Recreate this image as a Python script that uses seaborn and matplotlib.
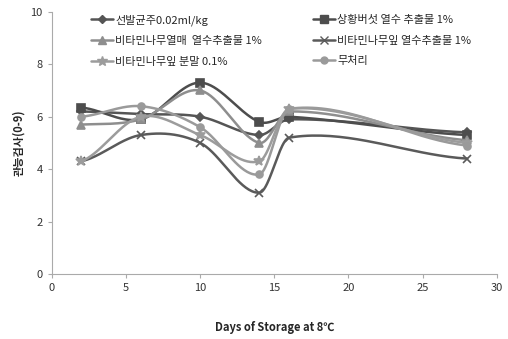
"""
관능검사 점수 변화 (8℃ 저장) - 처리구별 smoothed line
"""

import numpy as np
import pandas as pd
import matplotlib
matplotlib.use('Agg')
import matplotlib.pyplot as plt
import seaborn as sns

# 데이터
days = [2, 6, 10, 14, 16, 28]
series_names = ['선발균주0.02ml/kg', '상황버섯 열수 추출물 1%', '비타민나무열매  열수추출물 1%',
                '비타민나무잎 열수추출물 1%', '비타민나무잎 분말 0.1%', '무처리']
strain = [6.2, 6.1, 6.0, 5.3, 5.9, 5.4]
mushroom = [6.35, 5.9, 7.3, 5.8, 6.0, 5.3]
berry = [5.7, 5.9, 7.0, 5.0, 6.2, 5.1]
leaf_extract = [4.3, 5.3, 5.0, 3.1, 5.2, 4.4]
leaf_powder = [4.3, 6.0, 5.3, 4.3, 6.3, 5.0]
control = [6.0, 6.4, 5.6, 3.8, 6.3, 4.9]
values = [strain, mushroom, berry, leaf_extract, leaf_powder, control]

x_ticks = [0, 5, 10, 15, 20, 25, 30]
y_ticks = [0, 2, 4, 6, 8, 10]

sns.set_style('white')
plt.rcParams['font.family'] = ['Noto Sans CJK KR', 'DejaVu Sans']
plt.rcParams['axes.unicode_minus'] = False

colors = ['#555555', '#4d4d4d', '#8e8e8e', '#5a5a5a', '#9c9c9c', '#9a9a9a']
markers = ['D', 's', '^', 'x', '*', 'o']
msizes = [4, 6, 6, 6, 7, 5]


def smooth(xs, ys, n=40):
    """부드러운 선 (x 기준 cubic Hermite, 과도한 꺾임 방지)"""
    xs = np.asarray(xs, float)
    ys = np.asarray(ys, float)
    k = len(xs)
    slopes = np.zeros(k)
    for i in range(k):
        a = max(i - 1, 0)
        b = min(i + 1, k - 1)
        slopes[i] = (ys[b] - ys[a]) / (xs[b] - xs[a])
    slopes[0] = 0.5 * slopes[0]
    slopes[-1] = 0.5 * slopes[-1]
    out_x, out_y = [], []
    t = np.linspace(0, 1, n)
    for i in range(k - 1):
        h = xs[i + 1] - xs[i]
        h00 = 2 * t**3 - 3 * t**2 + 1
        h10 = t**3 - 2 * t**2 + t
        h01 = -2 * t**3 + 3 * t**2
        h11 = t**3 - t**2
        yy = h00 * ys[i] + h10 * h * slopes[i] + h01 * ys[i + 1] + h11 * h * slopes[i + 1]
        xx = xs[i] + t * h
        s = 0 if i == 0 else 1
        out_x.extend(xx[s:])
        out_y.extend(yy[s:])
    return np.array(out_x), np.array(out_y)


fig, ax = plt.subplots(figsize=(5.08, 3.39), dpi=100)
fig.subplots_adjust(left=0.102, right=0.978, bottom=0.192, top=0.965)

handles = []
for name, ys, c, m, ms in zip(series_names, values, colors, markers, msizes):
    cx, cy = smooth(days, ys)
    df_c = pd.DataFrame({'x': cx, 'y': cy})
    sns.lineplot(data=df_c, x='x', y='y', ax=ax, color=c, linewidth=1.8, sort=False,
                 estimator=None)
    ax.plot(days, ys, linestyle='none', marker=m, color=c, markersize=ms,
            markeredgewidth=1.2)
    h, = ax.plot([], [], color=c, marker=m, markersize=ms, linewidth=1.8, label=name)
    handles.append(h)

ax.set_xlim(0, 30)
ax.set_ylim(0, 10)
ax.set_xticks(x_ticks)
ax.set_yticks(y_ticks)
ax.tick_params(axis='both', labelsize=8, labelcolor='#333333', length=3,
               color='#aaaaaa', direction='out', bottom=True, left=True)
for s in ['top', 'right']:
    ax.spines[s].set_visible(False)
for s in ['left', 'bottom']:
    ax.spines[s].set_color('#aaaaaa')
ax.set_xlabel('Days of Storage at 8℃', fontsize=8, labelpad=20, fontweight='bold')
ax.set_ylabel('관능검사(0-9)', fontsize=8, labelpad=4, fontweight='bold')

order = [0, 2, 4, 1, 3, 5]
ax.legend([handles[i] for i in order], [series_names[i] for i in order],
          ncol=2, loc='upper left', bbox_to_anchor=(0.065, 1.03), frameon=False,
          fontsize=8, handlelength=2, handletextpad=0.2, columnspacing=4.6,
          labelspacing=0.95)

plt.savefig('out.png', dpi=100)
plt.close()
